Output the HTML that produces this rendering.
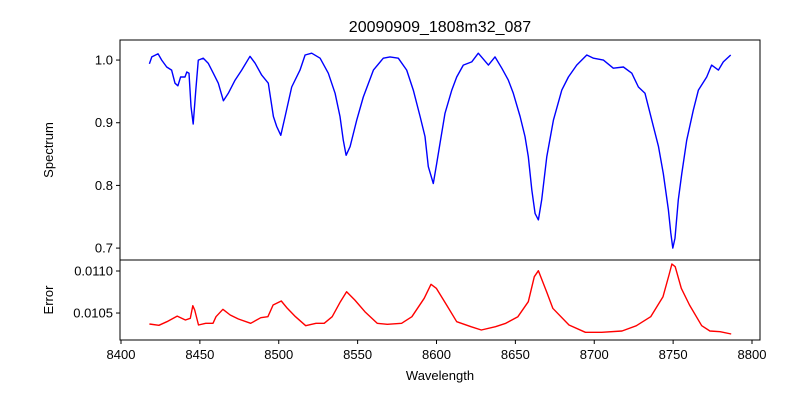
<!DOCTYPE html>
<html><head><meta charset="utf-8"><style>
body{margin:0;background:#fff;}
svg text{font-family:"Liberation Sans","DejaVu Sans",sans-serif;fill:#000;}
</style></head><body>
<svg id="chart" width="800" height="400" xmlns="http://www.w3.org/2000/svg">
<rect width="800" height="400" fill="#fff"/>
<text x="440" y="32" font-size="16" text-anchor="middle">20090909_1808m32_087</text>
<g id="topPanel"></g>
<g id="botPanel"></g>
<text transform="translate(53,150) rotate(-90)" font-size="13" text-anchor="middle">Spectrum</text>
<text transform="translate(53,300) rotate(-90)" font-size="13" text-anchor="middle">Error</text>
<text x="440" y="380" font-size="13" text-anchor="middle">Wavelength</text>
</svg>
<script>
const specWl=[8418,8419.5,8423.5,8425.8,8429,8432.1,8434.2,8436.1,8437.8,8440.6,8441.7,8443.1,8444.4,8445.8,8447.4,8449,8452.2,8455.3,8458.5,8461.7,8464.9,8468,8472.3,8476.5,8481.8,8485,8489.2,8493.4,8496.6,8498.7,8501.3,8504,8508.2,8513.5,8516.7,8520.9,8526.2,8531.4,8535.7,8538.8,8540.9,8542.7,8545.2,8549.4,8553.6,8560,8566.3,8570.5,8575.8,8581.1,8585.3,8589.6,8592.7,8594.8,8598,8600.1,8602.2,8605.4,8609.7,8612.8,8617,8622.3,8626.5,8632.9,8637.1,8641.4,8645.5,8648.7,8653,8656.1,8658.2,8660.4,8662.5,8664.6,8666.7,8669.9,8674.1,8679.4,8683.6,8688.9,8695.3,8699.5,8705.8,8712.1,8718.5,8723.8,8728,8732.2,8736.5,8740.7,8743.8,8747,8748.5,8749.8,8751.2,8753.3,8755.5,8758.6,8762.8,8766,8771.3,8774.4,8778.7,8781.8,8786.5];
const specVal=[0.994,1.005,1.010,1.000,0.989,0.984,0.963,0.959,0.973,0.973,0.981,0.979,0.926,0.898,0.952,1.000,1.003,0.995,0.979,0.963,0.935,0.947,0.968,0.984,1.006,0.995,0.976,0.963,0.910,0.894,0.880,0.910,0.957,0.984,1.008,1.011,1.003,0.979,0.947,0.910,0.872,0.848,0.862,0.904,0.941,0.984,1.003,1.005,1.003,0.984,0.952,0.910,0.878,0.830,0.803,0.835,0.867,0.915,0.952,0.973,0.992,0.997,1.011,0.992,1.005,0.987,0.968,0.947,0.910,0.878,0.846,0.793,0.755,0.745,0.777,0.846,0.904,0.952,0.973,0.992,1.008,1.003,1.000,0.987,0.989,0.979,0.957,0.947,0.904,0.862,0.819,0.761,0.724,0.700,0.716,0.777,0.819,0.872,0.920,0.952,0.973,0.992,0.984,0.997,1.008];
const errWl=[8418,8424,8429.1,8435.6,8440.8,8443.9,8445.5,8446.7,8449.1,8453.7,8458.3,8460.2,8464.6,8469.2,8474.4,8482.2,8488.6,8493.1,8496.4,8501.6,8505.4,8510.6,8517.1,8523.6,8528.8,8533.9,8539.1,8543,8548.2,8554.6,8562.4,8568.8,8577.9,8584.4,8592.2,8596.5,8599.9,8606.4,8612.8,8621.9,8628.4,8637.4,8643.9,8651.6,8658.2,8662,8664.6,8669.8,8673.7,8684,8694.4,8704.7,8717.6,8726.7,8735.8,8743.6,8747.4,8749.2,8751.3,8755.2,8760.4,8768.1,8773.3,8779.8,8786.8];
const errVal=[0.010369,0.010354,0.010397,0.010464,0.010417,0.010437,0.010587,0.010536,0.010357,0.010378,0.010378,0.010456,0.010544,0.010476,0.010429,0.010378,0.010444,0.010456,0.010595,0.010643,0.010556,0.010456,0.010349,0.010378,0.010378,0.010456,0.010635,0.010754,0.010655,0.010516,0.010378,0.010366,0.010378,0.010456,0.010675,0.010842,0.010794,0.010595,0.010397,0.010337,0.010298,0.010337,0.010378,0.010456,0.010635,0.010932,0.011004,0.010754,0.010556,0.010357,0.010271,0.010271,0.010286,0.010349,0.010456,0.010694,0.010952,0.011083,0.011051,0.010794,0.010595,0.010349,0.010286,0.010278,0.010250];
const xTicks=[8400,8450,8500,8550,8600,8650,8700,8750,8800];
const specTicks=[0.7,0.8,0.9,1.0];
const specTickLabels=["0.7","0.8","0.9","1.0"];
const errTicks=[0.0105,0.0110];
const errTickLabels=["0.0105","0.0110"];

const NS="http://www.w3.org/2000/svg";
const L=120,R=760;
const xs=w=>121+(w-8400)*1.5775;
const ysTop=v=>40+(1.032-v)/(1.032-0.681)*220;
const ysBot=v=>260+(0.011131-v)/(0.011131-0.010179)*80;
function mk(tag,attrs,parent){const e=document.createElementNS(NS,tag);for(const k in attrs)e.setAttribute(k,attrs[k]);parent.appendChild(e);return e;}
const topG=document.getElementById('topPanel'),botG=document.getElementById('botPanel');
let d=specWl.map((w,i)=>(i?'L':'M')+xs(w).toFixed(1)+','+ysTop(specVal[i]).toFixed(1)).join('');
let p=mk('path',{d:d,fill:'none',stroke:'#0000ff','stroke-width':1.4,'stroke-linejoin':'round'},topG);


d=errWl.map((w,i)=>(i?'L':'M')+xs(w).toFixed(1)+','+ysBot(errVal[i]).toFixed(1)).join('');
p=mk('path',{d:d,fill:'none',stroke:'#ff0000','stroke-width':1.4,'stroke-linejoin':'round'},botG);


let f=mk('rect',{x:L,y:40,width:R-L,height:220,fill:'none',stroke:'#000','stroke-width':1},topG);


f=mk('rect',{x:L,y:260,width:R-L,height:80,fill:'none',stroke:'#000','stroke-width':1},botG);


specTicks.forEach((v,i)=>{const y=ysTop(v);
 mk('line',{x1:L-4,x2:L,y1:y,y2:y,stroke:'#000'},topG);
 const t=mk('text',{x:L-7,y:y+4.5,'font-size':13,'text-anchor':'end'},topG);t.textContent=specTickLabels[i];
 
 });
errTicks.forEach((v,i)=>{const y=ysBot(v);
 mk('line',{x1:L-4,x2:L,y1:y,y2:y,stroke:'#000'},botG);
 const t=mk('text',{x:L-7,y:y+4.5,'font-size':13,'text-anchor':'end'},botG);t.textContent=errTickLabels[i];
 
 });
xTicks.forEach(w=>{const x=xs(w);
 mk('line',{x1:x,x2:x,y1:340,y2:344,stroke:'#000'},botG);
 const t=mk('text',{x:x,y:359,'font-size':13,'text-anchor':'middle'},botG);t.textContent=w;
 
 });
</script>
</body></html>
